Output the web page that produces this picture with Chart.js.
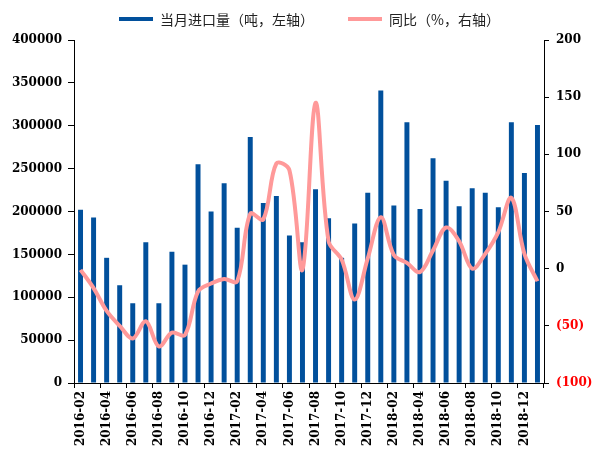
<!DOCTYPE html>
<html>
<head>
<meta charset="utf-8">
<script src="https://cdn.jsdelivr.net/npm/chart.js"></script>
<style>
  html, body { margin: 0; padding: 0; background: #fff; }
  #wrap { position: relative; width: 595px; height: 451px; }
  #legend { position: absolute; top: 0; left: 0; width: 595px; height: 38px;
            font-family: "Noto Sans CJK SC", sans-serif; font-size: 14px; color: #222; }
  .item { position: absolute; top: 10px; height: 18px; display: flex; align-items: center; white-space: nowrap; }
  .swatch { display: inline-block; width: 34px; height: 4px; margin-right: 7px; }
</style>
</head>
<body>
<div id="wrap">
  <canvas id="chart" width="595" height="451"></canvas>
  <div id="legend"></div>
</div>
<script>
// monthly imports (tonnes) and year-on-year change (%)
const months = [
  '2016-02','2016-03','2016-04','2016-05','2016-06','2016-07','2016-08','2016-09','2016-10','2016-11','2016-12','2017-01',
  '2017-02','2017-03','2017-04','2017-05','2017-06','2017-07','2017-08','2017-09','2017-10','2017-11','2017-12','2018-01',
  '2018-02','2018-03','2018-04','2018-05','2018-06','2018-07','2018-08','2018-09','2018-10','2018-11','2018-12','2019-01'
];
const imports = [
  202000, 193000, 146000, 114000, 93000, 164000, 93000, 153000, 138000, 255000, 200000, 233000,
  181000, 287000, 210000, 218000, 172000, 164000, 226000, 192000, 146000, 186000, 222000, 341000,
  207000, 304000, 203000, 262000, 236000, 206000, 227000, 222000, 205000, 304000, 245000, 301000
];
const yoy = [
  -1, -17, -37, -50, -61, -46, -68, -56, -58, -20, -13, -9,
  -11, 48, 43, 92, 86, -1, 145, 24, 8, -27, 9, 45,
  12, 5, -3, 16, 36, 24, 0, 13, 32, 62, 13, -11
];
const seriesNames = ['当月进口量（吨，左轴）', '同比（%，右轴）'];

const BLUE = '#01509C';
const PINK = '#FF9999';
const tickFont = { family: '"DejaVu Serif", serif', weight: 'bold', size: 12 };

const chart = new Chart(document.getElementById('chart'), {
  data: {
    labels: months,
    datasets: [
      { type: 'bar', label: seriesNames[0], data: imports, yAxisID: 'y',
        backgroundColor: BLUE, borderWidth: 0, barPercentage: 0.38, categoryPercentage: 1, order: 2 },
      { type: 'line', label: seriesNames[1], data: yoy, yAxisID: 'y1',
        borderColor: PINK, backgroundColor: PINK, borderWidth: 4, pointRadius: 0,
        tension: 0.35, order: 1 }
    ]
  },
  options: {
    responsive: false,
    animation: false,
    layout: { padding: { top: 40, left: 0, right: 0, bottom: 0 } },
    plugins: { legend: { display: false }, tooltip: { enabled: false } },
    scales: {
      x: {
        offset: true,
        grid: {
          offset: true, drawOnChartArea: false, tickLength: 5,
          tickColor: c => (c.index === undefined || c.index % 2 === 0) ? '#000' : 'rgba(0,0,0,0)'
        },
        border: { color: '#000', width: 1 },
        ticks: {
          autoSkip: false, minRotation: 90, maxRotation: 90, padding: 3,
          color: '#000', font: tickFont,
          callback: (v, i) => i % 2 === 0 ? months[i] : ''
        },
        afterFit: s => { s.height = 68; }
      },
      y: {
        position: 'left', min: 0, max: 400000,
        grid: { drawOnChartArea: false, tickLength: 6, tickColor: '#000' },
        border: { color: '#000', width: 1 },
        ticks: { stepSize: 50000, padding: 6, color: '#000', font: tickFont,
          callback: v => String(v) },
        afterFit: s => { s.width = 74; }
      },
      y1: {
        position: 'right', min: -100, max: 200,
        grid: { drawOnChartArea: false, tickLength: 5, tickColor: '#000' },
        border: { color: '#000', width: 1 },
        ticks: {
          stepSize: 50, padding: 7, font: tickFont,
          color: c => c.tick.value < 0 ? '#FF0000' : '#000',
          callback: v => v < 0 ? '(' + (-v) + ')' : String(v)
        },
        afterFit: s => { s.width = 51; }
      }
    }
  }
});

// legend drawn as html above the canvas
const legendLeft = [119, 348];
const legendEl = document.getElementById('legend');
chart.data.datasets.forEach((ds, i) => {
  const item = document.createElement('div');
  item.className = 'item';
  item.style.left = legendLeft[i] + 'px';
  const sw = document.createElement('span');
  sw.className = 'swatch';
  sw.style.background = ds.type === 'bar' ? ds.backgroundColor : ds.borderColor;
  item.appendChild(sw);
  item.appendChild(document.createTextNode(ds.label));
  legendEl.appendChild(item);
});
</script>
</body>
</html>
